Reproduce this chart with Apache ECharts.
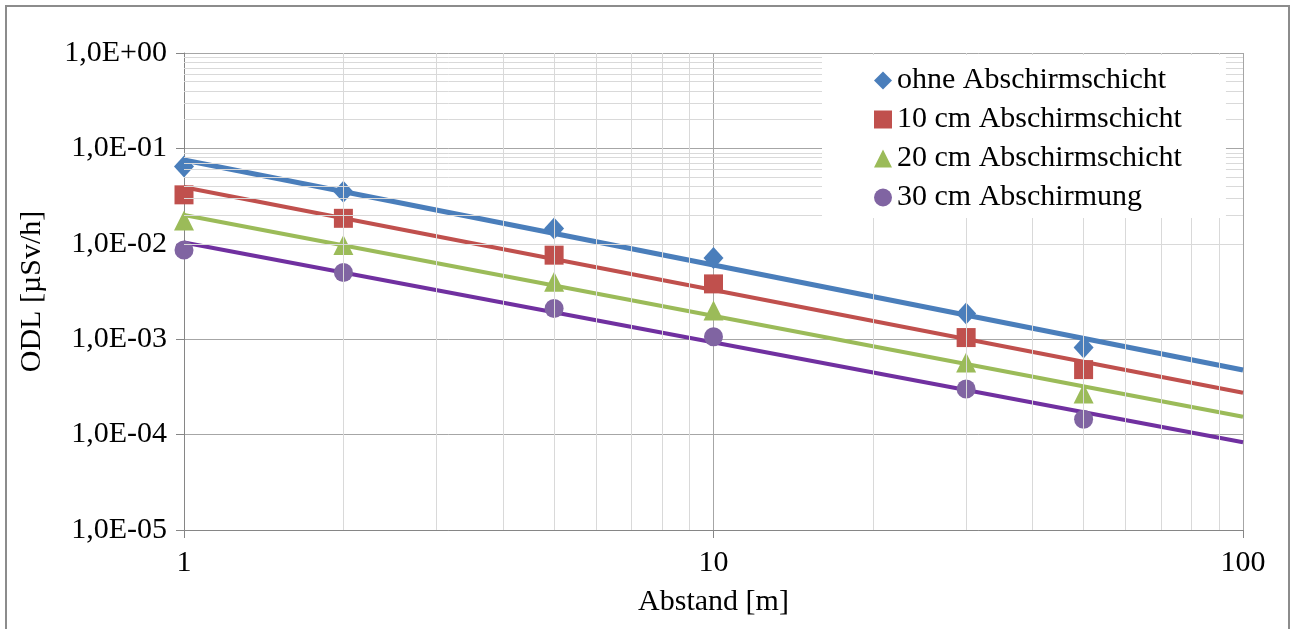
<!DOCTYPE html>
<html>
<head>
<meta charset="utf-8">
<script src="https://cdn.jsdelivr.net/npm/echarts@6/dist/echarts.min.js"></script>
<style>
  html, body { margin: 0; padding: 0; background: #fff; }
  #chart { width: 1290px; height: 629px; }
</style>
</head>
<body>
<div id="chart"></div>
<script>
// Abstand [m]
const distances = [1, 2, 5, 10, 30, 50];
// ODL [µSv/h] Messwerte
const ohneValues = [0.0645, 0.0352, 0.0145, 0.0071, 0.00186, 0.00082];
const cm10Values = [0.0326, 0.0185, 0.0076, 0.0038, 0.00104, 0.00048];
const cm20Values = [0.0176, 0.0097, 0.0040, 0.0020, 0.00057, 0.00027];
const cm30Values = [0.0086, 0.0050, 0.0021, 0.00106, 0.00030, 0.000145];
// Trendlinien (Potenz), Endpunkte bei 1 m und 100 m
const trendX = [1, 100];
const ohneTrend = [0.0756, 0.000475];
const cm10Trend = [0.0391, 0.000275];
const cm20Trend = [0.0200, 0.000154];
const cm30Trend = [0.0103, 0.000083];

const seriesNames = ['ohne Abschirmschicht', '10 cm Abschirmschicht', '20 cm Abschirmschicht', '30 cm Abschirmung'];
// Hilfsgitter
const xMinorGrid = [2, 3, 4, 5, 6, 7, 8, 9, 20, 30, 40, 50, 60, 70, 80, 90];
const yMinorGrid = [];
[1e-5, 1e-4, 1e-3, 1e-2, 1e-1].forEach(function (d) {
  for (let k = 2; k <= 9; k++) yMinorGrid.push(+(d * k).toPrecision(3));
});

const font = 'Liberation Serif, Times New Roman, serif';
const pairs = (xs, ys) => xs.map((x, i) => [x, ys[i]]);

const myChart = echarts.init(document.getElementById('chart'), null, { renderer: 'canvas' });

// Messpunkte
const scatter = function (name, values, symbol, size, color) {
  return {
    name: name,
    type: 'scatter',
    data: pairs(distances, values),
    symbol: symbol,
    symbolSize: size,
    itemStyle: { color: color, opacity: 1 },
    z: 4,
  };
};
// Trendlinie
const trend = function (values, color, width) {
  return {
    name: 'trend',
    type: 'line',
    data: pairs(trendX, values),
    symbol: 'none',
    lineStyle: { color: color, width: width },
    silent: true,
    z: 3,
  };
};

let option = {
  animation: false,
  grid: { left: 184, right: 47, top: 53, bottom: 99 },
  graphic: [
    {
      type: 'rect',
      shape: { x: 6, y: 6, width: 1283, height: 700 },
      style: { fill: 'none', stroke: '#8c8c8c', lineWidth: 2 },
      silent: true,
    },
  ],
  legend: {
    data: seriesNames,
    orient: 'vertical',
    left: 822,
    top: 55,
    padding: [10, 44, 5, 52],
    itemGap: 8,
    itemWidth: 18,
    itemHeight: 18,
    backgroundColor: '#fff',
    textStyle: { fontFamily: font, fontSize: 30, color: '#000', lineHeight: 31 },
    z: 10,
  },
  xAxis: {
    type: 'log',
    logBase: 10,
    min: 1,
    max: 100,
    name: 'Abstand [m]',
    nameLocation: 'middle',
    nameGap: 57,
    nameTextStyle: { fontFamily: font, fontSize: 30, color: '#000' },
    axisLine: { lineStyle: { color: '#868686', width: 1 } },
    axisTick: { show: true, inside: false, length: 8, lineStyle: { color: '#868686' } },
    axisLabel: { fontFamily: font, fontSize: 30, color: '#000', margin: 18 },
    splitLine: { show: true, lineStyle: { color: '#a6a6a6', width: 1 } },
  },
  yAxis: {
    type: 'log',
    logBase: 10,
    min: 1e-5,
    max: 1,
    name: 'ODL [µSv/h]',
    nameLocation: 'middle',
    nameGap: 137,
    nameTextStyle: { fontFamily: font, fontSize: 30, color: '#000' },
    axisLine: { show: true, lineStyle: { color: '#868686', width: 1 } },
    axisTick: { show: true, inside: false, length: 8, lineStyle: { color: '#868686' } },
    axisLabel: {
      fontFamily: font,
      fontSize: 30,
      color: '#000',
      margin: 17,
      formatter: function (v) {
        const e = Math.round(Math.log10(v));
        return '1,0E' + (e < 0 ? '-' : '+') + String(Math.abs(e)).padStart(2, '0');
      },
    },
    splitLine: { show: true, lineStyle: { color: '#a6a6a6', width: 1 } },
  },
  series: [
    {
      name: 'minorGrid',
      type: 'line',
      data: [],
      silent: true,
      z: 1,
      markLine: {
        silent: true,
        symbol: ['none', 'none'],
        label: { show: false },
        lineStyle: { color: '#d9d9d9', width: 1, type: 'solid' },
        data: xMinorGrid.map((v) => ({ xAxis: v })).concat(yMinorGrid.map((v) => ({ yAxis: v }))),
      },
    },
    trend(ohneTrend, '#4a7ebb', 5),
    trend(cm10Trend, '#c0504d', 4),
    trend(cm20Trend, '#9bbb59', 4),
    trend(cm30Trend, '#7030a0', 4),
    scatter(seriesNames[0], ohneValues, 'diamond', [20, 22], '#4a7ebb'),
    scatter(seriesNames[1], cm10Values, 'rect', 19, '#c0504d'),
    scatter(seriesNames[2], cm20Values, 'triangle', 20, '#9bbb59'),
    scatter(seriesNames[3], cm30Values, 'circle', 19, '#8064a2'),
  ],
};

option && myChart.setOption(option);
</script>
</body>
</html>
